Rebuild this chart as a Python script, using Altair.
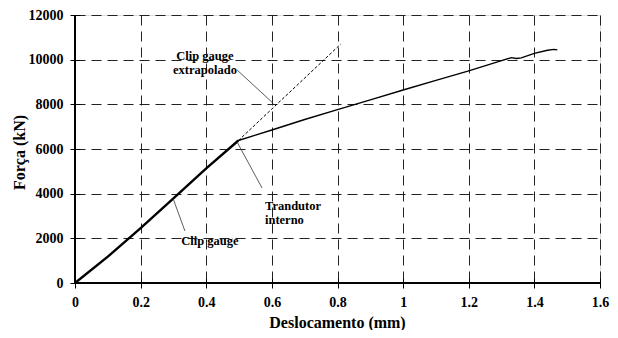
import altair as alt
import pandas as pd

# ---- data ----
clip_x = [0, 0.1, 0.2, 0.3, 0.4, 0.498]
clip_y = [0, 1180, 2460, 3790, 5130, 6380]

trans_x = [0.498, 0.55, 0.6, 0.7, 0.8, 0.9, 1.0, 1.1, 1.2, 1.3, 1.33, 1.345, 1.36, 1.4, 1.44, 1.46, 1.47]
trans_y = [6380, 6620, 6850, 7320, 7760, 8200, 8640, 9070, 9500, 9960, 10090, 10050, 10080, 10280, 10420, 10460, 10440]

extrap_x = [0.498, 0.81]
extrap_y = [6380, 10700]

ann_text = ["Clip gauge\nextrapolado", "Trandutor\ninterno", "Clip gauge"]
ann_x = [0.396, 0.579, 0.411]
ann_y = [10164, 3470, 1880]
ann_align = ["center", "left", "center"]

lead_x1 = [0.494, 0.494, 0.299]
lead_y1 = [9537, 6313, 3780]
lead_x2 = [0.604, 0.570, 0.335]
lead_y2 = [8045, 4254, 2328]

x_ticks = [0, 0.2, 0.4, 0.6, 0.8, 1.0, 1.2, 1.4, 1.6]
y_ticks = [0, 2000, 4000, 6000, 8000, 10000, 12000]

FONT = "Liberation Serif"

df_clip = pd.DataFrame({"x": clip_x, "y": clip_y})
df_trans = pd.DataFrame({"x": trans_x, "y": trans_y})
df_ext = pd.DataFrame({"x": extrap_x, "y": extrap_y})
df_ann = pd.DataFrame({"x": ann_x, "y": ann_y, "t": ann_text, "a": ann_align})
df_lead = pd.DataFrame({"x": lead_x1, "y": lead_y1, "x2": lead_x2, "y2": lead_y2})

sx = alt.Scale(domain=[0, 1.6], nice=False, zero=False)
sy = alt.Scale(domain=[0, 12000], nice=False, zero=False)

ax_x = alt.Axis(values=x_ticks, format="~g", title="Deslocamento (mm)",
                grid=True, gridDash=[10, 6], gridColor="#222", gridWidth=1,
                domain=False, offset=-5, tickSize=10, tickColor="black",
                labelFont=FONT, labelFontSize=14, labelFontWeight="bold", labelColor="black",
                labelPadding=7, labelFlush=False,
                titleFont=FONT, titleFontSize=16, titleFontWeight="bold", titleColor="black",
                titleX=262, titleY=44, titleBaseline="middle")
ax_y = alt.Axis(values=y_ticks, format="d", title="Força (kN)",
                grid=True, gridDash=[10, 6], gridColor="#222", gridWidth=1,
                domain=False, offset=-5, tickSize=10, tickColor="black",
                labelFont=FONT, labelFontSize=14, labelFontWeight="bold", labelColor="black",
                labelPadding=7, labelFlush=False,
                titleFont=FONT, titleFontSize=16, titleFontWeight="bold", titleColor="black",
                titleX=-61, titleY=137, titleBaseline="middle", titleAngle=-90)

X = lambda f: alt.X(f, type="quantitative", scale=sx, axis=ax_x)
Y = lambda f: alt.Y(f, type="quantitative", scale=sy, axis=ax_y)

clip = alt.Chart(df_clip).mark_line(color="black", strokeWidth=2.4).encode(x=X("x"), y=Y("y"))
trans = alt.Chart(df_trans).mark_line(color="black", strokeWidth=1.4).encode(x=X("x"), y=Y("y"))
ext = alt.Chart(df_ext).mark_line(color="black", strokeWidth=1, strokeDash=[3, 2]).encode(x=X("x"), y=Y("y"))

lead = alt.Chart(df_lead).mark_rule(color="#333", strokeWidth=0.8).encode(
    x=X("x"), y=Y("y"), x2="x2", y2="y2")

txt_c = alt.Chart(df_ann).transform_filter(alt.datum.a == "center").mark_text(
    font=FONT, fontSize=12.5, fontWeight="bold", color="black", align="center",
    baseline="middle", lineBreak="\n", lineHeight=14).encode(x=X("x"), y=Y("y"), text="t:N")
txt_l = alt.Chart(df_ann).transform_filter(alt.datum.a == "left").mark_text(
    font=FONT, fontSize=12.5, fontWeight="bold", color="black", align="left",
    baseline="middle", lineBreak="\n", lineHeight=14).encode(x=X("x"), y=Y("y"), text="t:N")

vline = alt.Chart(df_clip).mark_rule(color="black", strokeWidth=1.2).encode(
    x=alt.X(datum=0, type="quantitative", scale=sx, axis=ax_x))
hline = alt.Chart(df_clip).mark_rule(color="black", strokeWidth=1.2).encode(
    y=alt.Y(datum=0, type="quantitative", scale=sy, axis=ax_y))

chart = alt.layer(vline, hline, ext, trans, clip, lead, txt_c, txt_l).properties(
    width=525, height=268,
    autosize=alt.AutoSizeParams(type="none"),
    padding={"left": 67, "top": 7, "right": 10, "bottom": 47},
).configure_view(stroke=None).configure(background="white")

chart.save("out.html", embed_options={"renderer": "svg", "actions": False})
